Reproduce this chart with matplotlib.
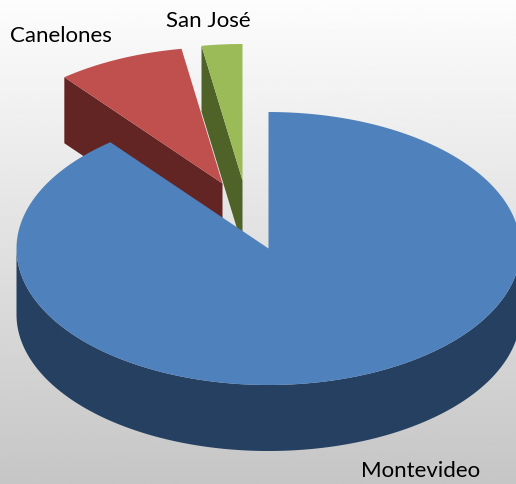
"""Faux 3D exploded pie: department shares, drawn as flat polygons."""
import numpy as np
import matplotlib
matplotlib.use("Agg")
import matplotlib.pyplot as plt
from matplotlib.patches import Polygon

# ── Data ──────────────────────────────────────────────────────────────────────
departments = ["Montevideo", "Canelones", "San José"]
shares = [89.2, 8.2, 2.6]

# ── Style ─────────────────────────────────────────────────────────────────────
top_colors = ["#4F81BD", "#C0504D", "#9BBB59"]
wall_colors = ["#254061", "#632523", "#4F6228"]
apex_shift = [(0, 0), (-46, -65), (-26, -68)]
label_pos = [(421, 471), (61, 36), (208, 21)]
CX, CY, RX, RY = 268.5, 248.5, 252, 136.5
DEPTH = 66


def arc(t0, t1, dx=0, dy=0):
    # angles in degrees, clockwise from 12 o'clock
    t = np.radians(np.linspace(t0, t1, 200))
    return np.column_stack([CX + dx + RX * np.sin(t), CY + dy - RY * np.cos(t)])


fig = plt.figure(figsize=(5.16, 4.84), dpi=100)
ax = fig.add_axes([0, 0, 1, 1])
ax.set_xlim(0, 516)
ax.set_ylim(484, 0)
ax.axis("off")

# background, white fading to grey downwards
grad = np.linspace(0.99, 0.775, 256).reshape(-1, 1)
ax.imshow(grad, cmap="gray", vmin=0, vmax=1, extent=[0, 516, 484, 0], aspect="auto", zorder=0)

starts = np.cumsum([0] + shares[:-1]) / sum(shares) * 360
ends = np.cumsum(shares) / sum(shares) * 360

# back slices first, San José under Canelones, Montevideo on top
for i in [2, 1, 0]:
    dx, dy = apex_shift[i]
    t0, t1 = starts[i], ends[i]
    apex = np.array([CX + dx, CY + dy])
    if i == 0:
        # front rim of the big slice
        rim = arc(90, 270)
        wall = np.vstack([rim, (rim + [0, DEPTH])[::-1]])
    else:
        # cut face along the start edge of the slice
        outer = arc(t0, t0, dx, dy)[0]
        wall = np.array([apex, outer, outer + [0, DEPTH], apex + [0, DEPTH]])
    ax.add_patch(Polygon(wall, closed=True, fc=wall_colors[i], ec="none", zorder=2 + (2 - i)))
    top = np.vstack([apex, arc(t0, t1, dx, dy)])
    ax.add_patch(Polygon(top, closed=True, fc=top_colors[i], ec="none", zorder=2 + (2 - i)))

for name, (x, y) in zip(departments, label_pos):
    ax.text(x, y, name, ha="center", va="center", fontsize=16, family="Lato", color="black", zorder=6)

fig.savefig("out.png", dpi=100)
